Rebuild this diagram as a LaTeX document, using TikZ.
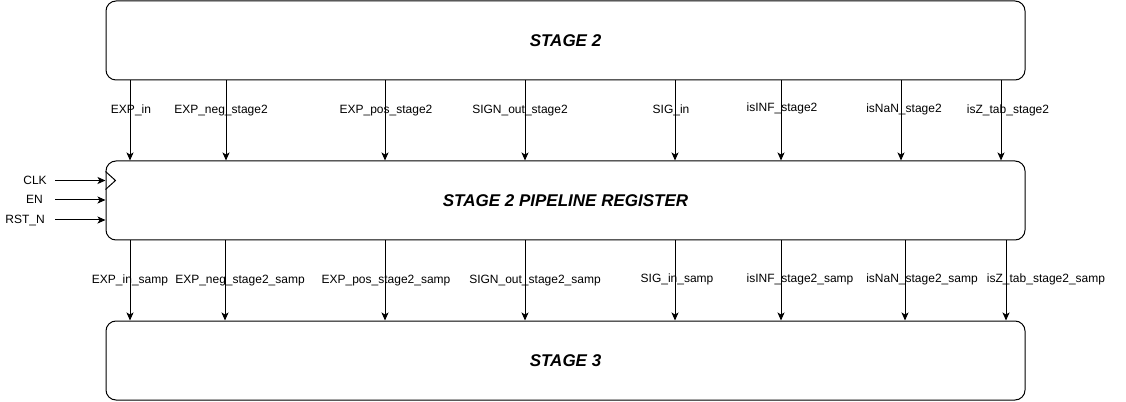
\documentclass[tikz,border=0pt]{standalone}
\usepackage{fontspec}
\setmainfont{Liberation Sans}
\usetikzlibrary{positioning}
\usetikzlibrary{arrows.meta}

\tikzset{
  stagebox/.style={draw, line width=0.75pt, rounded corners=7.5pt, inner sep=0pt,
    minimum width=689.25pt, minimum height=59.25pt,
    font=\fontsize{12.75}{15}\selectfont\bfseries\itshape},
  sig/.style={-{Stealth[length=6pt, width=5.25pt, inset=1.5pt]}, line width=0.75pt},
  siglabel/.style={font=\fontsize{9}{11}\selectfont, inner sep=0pt, anchor=base},
}

\begin{document}
\begin{tikzpicture}[x=0.75pt, y=-0.75pt]
  \useasboundingbox (0,0) rectangle (1126,402);

  \node [stagebox] (s2) at (565.5,40.5) {STAGE 2};
  \node [stagebox, below=60pt of s2] (reg) {STAGE 2 PIPELINE REGISTER};
  \node [stagebox, below=60pt of reg] (s3) {STAGE 3};

  % clock, enable and reset
  \node [siglabel, anchor=base east] (clk) at (47,184.5) {CLK};
  \node [siglabel, anchor=base east] (en) at (43,204) {EN};
  \node [siglabel, anchor=base east] (rst) at (45,224) {RST\_N};
  \coordinate (clkin) at (55,180.5);
  \coordinate (enin) at (55,200);
  \coordinate (rstin) at (55,220);
  \draw [sig] (clkin) -- (clkin -| reg.west);
  \draw [sig] (enin) -- (enin -| reg.west);
  \draw [sig] (rstin) -- (rstin -| reg.west);
  \draw [line width=0.75pt] (clkin -| reg.west) ++(0,-9) -- ++(10,9) -- ++(-10,9);

  % stage 2 to register
  \coordinate (t1) at (130,0);
  \coordinate (t2) at (226,0);
  \coordinate (t3) at (385,0);
  \coordinate (t4) at (525,0);
  \coordinate (t5) at (675,0);
  \coordinate (t6) at (781,0);
  \coordinate (t7) at (901,0);
  \coordinate (t8) at (1001,0);
  \draw [sig] (t1 |- s2.south) -- (t1 |- reg.north);
  \draw [sig] (t2 |- s2.south) -- (t2 |- reg.north);
  \draw [sig] (t3 |- s2.south) -- (t3 |- reg.north);
  \draw [sig] (t4 |- s2.south) -- (t4 |- reg.north);
  \draw [sig] (t5 |- s2.south) -- (t5 |- reg.north);
  \draw [sig] (t6 |- s2.south) -- (t6 |- reg.north);
  \draw [sig] (t7 |- s2.south) -- (t7 |- reg.north);
  \draw [sig] (t8 |- s2.south) -- (t8 |- reg.north);
  \node [siglabel] (expin) at (131,113.5) {EXP\_in};
  \node [siglabel] (expneg) at (221,113.5) {EXP\_neg\_stage2};
  \node [siglabel] (exppos) at (386,113.5) {EXP\_pos\_stage2};
  \node [siglabel] (signout) at (520,113.5) {SIGN\_out\_stage2};
  \node [siglabel] (sigin) at (671,113.5) {SIG\_in};
  \node [siglabel] (isinf) at (782,111.5) {isINF\_stage2};
  \node [siglabel] (isnan) at (904,112.5) {isNaN\_stage2};
  \node [siglabel] (isz) at (1008,113.5) {isZ\_tab\_stage2};

  % register to stage 3
  \coordinate (b1) at (130,0);
  \coordinate (b2) at (225,0);
  \coordinate (b3) at (385,0);
  \coordinate (b4) at (525,0);
  \coordinate (b5) at (675,0);
  \coordinate (b6) at (781,0);
  \coordinate (b7) at (905,0);
  \coordinate (b8) at (1006,0);
  \draw [sig] (b1 |- reg.south) -- (b1 |- s3.north);
  \draw [sig] (b2 |- reg.south) -- (b2 |- s3.north);
  \draw [sig] (b3 |- reg.south) -- (b3 |- s3.north);
  \draw [sig] (b4 |- reg.south) -- (b4 |- s3.north);
  \draw [sig] (b5 |- reg.south) -- (b5 |- s3.north);
  \draw [sig] (b6 |- reg.south) -- (b6 |- s3.north);
  \draw [sig] (b7 |- reg.south) -- (b7 |- s3.north);
  \draw [sig] (b8 |- reg.south) -- (b8 |- s3.north);
  \node [siglabel] (expinsamp) at (130,283.5) {EXP\_in\_samp};
  \node [siglabel] (expnegsamp) at (240,283.5) {EXP\_neg\_stage2\_samp};
  \node [siglabel] (exppossamp) at (386,283.5) {EXP\_pos\_stage2\_samp};
  \node [siglabel] (signoutsamp) at (535,283.5) {SIGN\_out\_stage2\_samp};
  \node [siglabel] (siginsamp) at (677,282.5) {SIG\_in\_samp};
  \node [siglabel] (isinfsamp) at (800,282.5) {isINF\_stage2\_samp};
  \node [siglabel] (isnansamp) at (922,282.5) {isNaN\_stage2\_samp};
  \node [siglabel] (iszsamp) at (1046,282.5) {isZ\_tab\_stage2\_samp};

\end{tikzpicture}
\end{document}
